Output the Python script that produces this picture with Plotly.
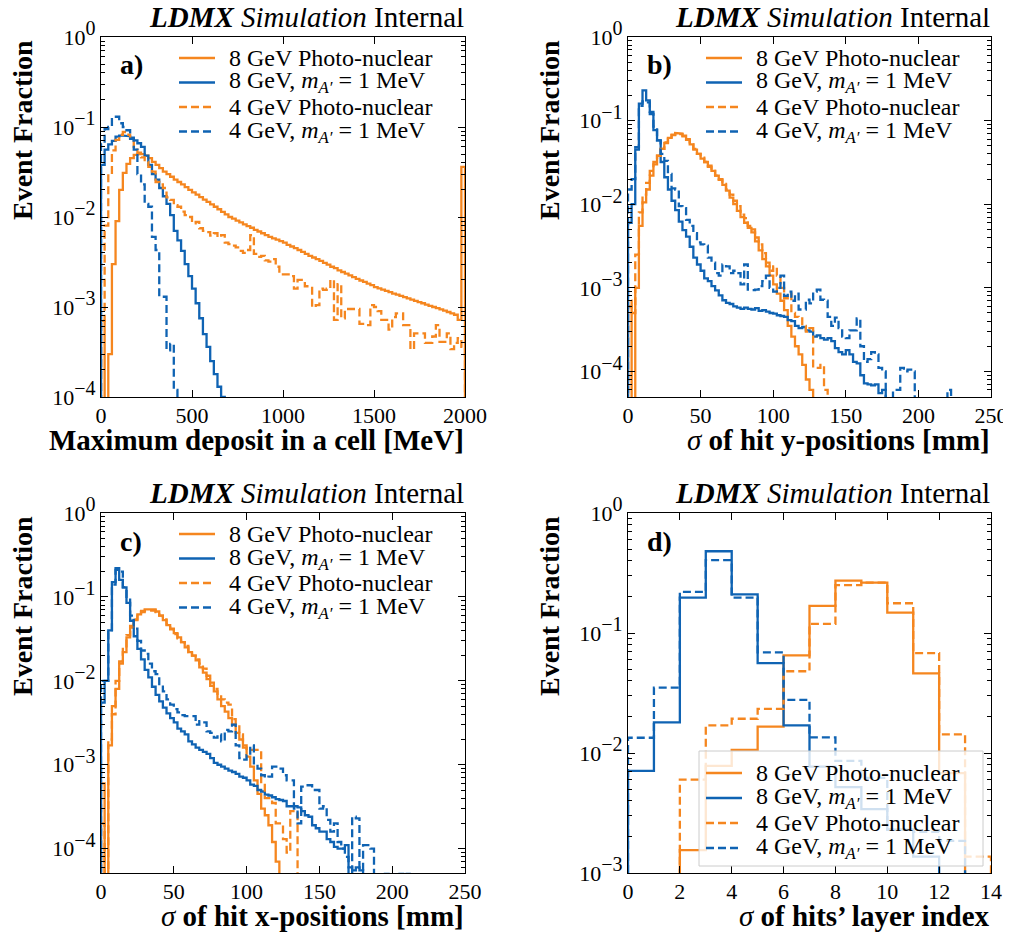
import plotly.graph_objects as go

# ---------------- data (event fractions per bin, bins start at 0) ----------------
SERIES_NAMES = ["8 GeV Photo-nuclear",
                "8 GeV, <i>m</i><sub><i>A′</i></sub> = 1 MeV",
                "4 GeV Photo-nuclear",
                "4 GeV, <i>m</i><sub><i>A′</i></sub> = 1 MeV"]

# a) Maximum deposit in a cell [MeV], 20 MeV bins
A_BIN = 20
A_PN8 = [7e-4, 0, 3e-4, 3e-3, 9e-3, 2.0e-2, 3.1e-2, 3.9e-2, 4.5e-2, 4.9e-2,
         5.0e-2, 5.0e-2, 4.8e-2, 4.5e-2, 4.1e-2, 3.8e-2, 3.5e-2, 3.2e-2, 3.0e-2, 2.8e-2,
         2.6e-2, 2.45e-2, 2.3e-2, 2.15e-2, 2.0e-2, 1.88e-2, 1.77e-2, 1.66e-2, 1.56e-2, 1.47e-2,
         1.38e-2, 1.3e-2, 1.22e-2, 1.14e-2, 1.07e-2, 1.0e-2, 9.6e-3, 9.1e-3, 8.7e-3, 8.3e-3,
         7.9e-3, 7.6e-3, 7.2e-3, 6.9e-3, 6.6e-3, 6.3e-3, 6.0e-3, 5.8e-3, 5.6e-3, 5.4e-3,
         5.2e-3, 4.9e-3, 4.7e-3, 4.5e-3, 4.3e-3, 4.1e-3, 3.9e-3, 3.7e-3, 3.55e-3, 3.4e-3,
         3.25e-3, 3.1e-3, 2.95e-3, 2.8e-3, 2.7e-3, 2.55e-3, 2.45e-3, 2.35e-3, 2.25e-3, 2.15e-3,
         2.05e-3, 1.97e-3, 1.9e-3, 1.82e-3, 1.75e-3, 1.66e-3, 1.61e-3, 1.56e-3, 1.51e-3, 1.46e-3,
         1.41e-3, 1.37e-3, 1.33e-3, 1.29e-3, 1.25e-3, 1.21e-3, 1.17e-3, 1.13e-3, 1.10e-3, 1.06e-3,
         1.03e-3, 1.0e-3, 9.7e-4, 9.4e-4, 9.1e-4, 8.8e-4, 8.5e-4, 8.2e-4, 7.2e-4, 3.6e-2]
A_AP8 = [3.8e-2, 5.6e-2, 6.4e-2, 7.0e-2, 7.8e-2, 8.0e-2, 8.0e-2, 7.9e-2, 7.6e-2, 7.1e-2,
         6.6e-2, 6.0e-2, 4.8e-2, 3.8e-2, 3.0e-2, 2.6e-2, 2.1e-2, 1.7e-2, 1.4e-2, 1.05e-2,
         7.0e-3, 5.5e-3, 4.2e-3, 3.0e-3, 2.2e-3, 1.6e-3, 1.1e-3, 7.5e-4, 5.0e-4, 3.6e-4,
         2.5e-4, 1.8e-4, 1.3e-4, 1.0e-4, 6e-5]
A_PN4 = [7e-4, 8e-3, 3.0e-2, 5.5e-2, 7.2e-2, 8.2e-2, 8.8e-2, 8.2e-2, 7.0e-2, 6.0e-2,
         5.2e-2, 4.6e-2, 4.1e-2, 3.6e-2, 3.2e-2, 2.45e-2, 2.3e-2, 2.1e-2, 1.65e-2, 1.55e-2,
         1.35e-2, 1.3e-2, 1.15e-2, 1.05e-2, 1.0e-2, 8.5e-3, 8.8e-3, 7.5e-3, 7.0e-3, 6.8e-3,
         6.2e-3, 6.6e-3, 6.0e-3, 6.3e-3, 5.2e-3, 5.0e-3, 4.8e-3, 4.6e-3, 4.2e-3, 4.0e-3,
         4.3e-3, 6.3e-3, 3.9e-3, 3.6e-3, 3.7e-3, 3.3e-3, 3.2e-3, 3.4e-3, 2.8e-3, 2.3e-3,
         2.3e-3, 2.3e-3, 2.2e-3, 1.6e-3, 2.0e-3, 2.0e-3, 1.7e-3, 1.7e-3, 1.0e-3, 1.05e-3,
         1.6e-3, 1.55e-3, 1.6e-3, 2.0e-3, 7.2e-4, 1.8e-3, 7.5e-4, 9.5e-4, 9.5e-4, 9.5e-4,
         9.5e-4, 6.5e-4, 6.3e-4, 6.3e-4, 1.05e-3, 1.0e-3, 9.0e-4, 7.2e-4, 7.2e-4, 5.6e-4,
         7.7e-4, 8.5e-4, 8.5e-4, 6.3e-4, 6.3e-4, 3.4e-4, 5.1e-4, 5.1e-4, 5.1e-4, 4.0e-4,
         4.0e-4, 4.7e-4, 6.3e-4, 4.1e-4, 4.1e-4, 5.1e-4, 3.4e-4, 4.0e-4, 4.5e-4, 3.6e-4]
A_AP4 = [6.5e-2, 9.5e-2, 1.0e-1, 1.3e-1, 1.3e-1, 1.1e-1, 1.0e-1, 9.2e-2, 7.4e-2, 5.6e-2,
         3.0e-2, 2.3e-2, 1.4e-2, 1.3e-2, 6.0e-3, 4.3e-3, 1.3e-3, 1.3e-3, 3.3e-4, 3.9e-4,
         1.2e-4]

# b) sigma of hit y-positions [mm], 2.5 mm bins
B_BIN = 2.5
B_PN8 = [6e-4, 0, 1.0e-3, 5.5e-3, 1.05e-2, 1.5e-2, 2.2e-2, 3.0e-2, 3.8e-2, 4.6e-2,
         5.4e-2, 6.2e-2, 6.8e-2, 7.1e-2, 7.0e-2, 6.6e-2, 5.9e-2, 5.2e-2, 4.5e-2, 4.0e-2,
         3.5e-2, 3.2e-2, 2.8e-2, 2.5e-2, 2.2e-2, 1.95e-2, 1.7e-2, 1.45e-2, 1.2e-2, 1.0e-2,
         8.3e-3, 7.0e-3, 6.0e-3, 5.2e-3, 4.6e-3, 3.6e-3, 2.8e-3, 2.2e-3, 1.8e-3, 1.4e-3,
         1.1e-3, 8.5e-4, 7.0e-4, 5.4e-4, 3.5e-4, 2.6e-4, 2.0e-4, 1.6e-4, 1.2e-4, 8e-5,
         6e-5]
B_AP8 = [6.0e-3, 1.0e-2, 4.5e-2, 1.6e-1, 2.3e-1, 1.75e-1, 1.27e-1, 7.7e-2, 5.8e-2, 3.2e-2,
         2.1e-2, 1.5e-2, 1.1e-2, 8.5e-3, 6.2e-3, 4.9e-3, 4.1e-3, 3.1e-3, 2.3e-3, 1.9e-3,
         1.6e-3, 1.3e-3, 1.2e-3, 1.05e-3, 9.3e-4, 8.1e-4, 7.1e-4, 6.6e-4, 6.4e-4, 6.0e-4,
         5.8e-4, 5.6e-4, 5.8e-4, 5.6e-4, 5.5e-4, 5.7e-4, 5.3e-4, 5.4e-4, 5.2e-4, 5.0e-4,
         4.9e-4, 4.7e-4, 4.6e-4, 4.5e-4, 4.1e-4, 4.0e-4, 3.5e-4, 3.3e-4, 3.4e-4, 3.1e-4,
         3.0e-4, 2.6e-4, 2.7e-4, 2.5e-4, 2.4e-4, 2.5e-4, 2.3e-4, 1.9e-4, 1.7e-4, 1.6e-4,
         1.8e-4, 1.6e-4, 1.3e-4, 1.25e-4, 9e-5, 7.2e-5, 7.0e-5, 6.8e-5, 7.0e-5, 5.5e-5,
         6.0e-5]
B_PN4 = [7e-4, 5e-4, 2.5e-3, 8e-3, 1.3e-2, 1.8e-2, 2.5e-2, 3.2e-2, 3.8e-2, 4.6e-2,
         5.5e-2, 6.3e-2, 6.7e-2, 7.0e-2, 6.9e-2, 6.5e-2, 6.0e-2, 5.2e-2, 4.6e-2, 4.0e-2,
         3.6e-2, 3.2e-2, 2.9e-2, 2.5e-2, 2.2e-2, 2.0e-2, 1.75e-2, 1.5e-2, 1.3e-2, 1.1e-2,
         9.5e-3, 7.5e-3, 6.8e-3, 5.5e-3, 5.0e-3, 4.0e-3, 3.3e-3, 2.6e-3, 2.0e-3, 1.6e-3,
         1.8e-3, 1.4e-3, 1.0e-3, 7.5e-4, 8.5e-4, 5.0e-4, 4.5e-4, 4.3e-4, 3.5e-4, 3.0e-4,
         3.3e-4, 1.1e-4, 1.1e-4, 1.2e-4, 6e-5]
B_AP4 = [1.5e-2, 2.0e-2, 4.8e-2, 1.5e-1, 1.7e-1, 1.65e-1, 1.2e-1, 8.5e-2, 5.8e-2, 4.0e-2,
         3.3e-2, 2.3e-2, 1.55e-2, 1.5e-2, 9.5e-3, 9.0e-3, 6.5e-3, 5.5e-3, 4.5e-3, 3.5e-3,
         3.3e-3, 3.2e-3, 2.3e-3, 2.0e-3, 1.5e-3, 1.4e-3, 1.9e-3, 1.8e-3, 1.5e-3, 1.6e-3,
         1.5e-3, 1.1e-3, 1.9e-3, 9.5e-4, 9.4e-4, 9.5e-4, 1.05e-3, 1.2e-3, 1.4e-3, 1.0e-3,
         9.0e-4, 1.0e-3, 1.4e-3, 8.0e-4, 9.0e-4, 7.0e-4, 8.5e-4, 5.5e-4, 5.5e-4, 7.2e-4,
         6.5e-4, 9.0e-4, 9.5e-4, 7.2e-4, 7.0e-4, 4.5e-4, 3.5e-4, 4.4e-4, 3.3e-4, 2.6e-4,
         2.5e-4, 3.1e-4, 3.1e-4, 4.3e-4, 2.0e-4, 1.3e-4, 1.4e-4, 1.7e-4, 1.6e-4, 1.1e-4,
         1.0e-4, 0, 0, 6e-5, 6e-5, 1.1e-4, 1.0e-4, 1.05e-4, 1.0e-4, 0,
         0, 0, 0, 0, 0, 0, 0, 0, 6e-5]

# c) sigma of hit x-positions [mm], 2.5 mm bins
C_BIN = 2.5
C_PN8 = [6e-4, 0, 1.7e-3, 5e-3, 8e-3, 1.6e-2, 2.2e-2, 3.3e-2, 4.3e-2, 5.3e-2,
         6.2e-2, 6.8e-2, 7.1e-2, 7.2e-2, 7.1e-2, 6.7e-2, 6.0e-2, 5.3e-2, 4.6e-2, 4.2e-2,
         3.7e-2, 3.3e-2, 2.9e-2, 2.5e-2, 2.2e-2, 2.0e-2, 1.75e-2, 1.45e-2, 1.25e-2, 1.05e-2,
         8.7e-3, 7.5e-3, 6.0e-3, 5.0e-3, 4.3e-3, 3.6e-3, 3.0e-3, 2.4e-3, 2.0e-3, 1.6e-3,
         1.25e-3, 9.5e-4, 6.5e-4, 4.5e-4, 3.0e-4, 2.5e-4, 1.9e-4, 1.2e-4, 7e-5]
C_AP8 = [5.5e-3, 1.0e-2, 4.0e-2, 1.5e-1, 2.2e-1, 1.6e-1, 1.3e-1, 8.5e-2, 5.2e-2, 3.4e-2,
         2.4e-2, 1.8e-2, 1.35e-2, 1.1e-2, 8.5e-3, 6.8e-3, 5.7e-3, 4.8e-3, 4.1e-3, 3.6e-3,
         3.2e-3, 2.7e-3, 2.5e-3, 2.3e-3, 1.9e-3, 1.75e-3, 1.6e-3, 1.5e-3, 1.42e-3, 1.35e-3,
         1.2e-3, 1.05e-3, 1.0e-3, 9.5e-4, 9.0e-4, 8.5e-4, 8.2e-4, 7.8e-4, 7.2e-4, 7.0e-4,
         6.5e-4, 5.8e-4, 5.6e-4, 5.0e-4, 4.8e-4, 4.4e-4, 4.3e-4, 4.1e-4, 3.9e-4, 3.8e-4,
         3.7e-4, 3.2e-4, 3.2e-4, 3.2e-4, 3.1e-4, 2.8e-4, 2.5e-4, 2.4e-4, 1.9e-4, 1.75e-4,
         1.6e-4, 1.6e-4, 1.3e-4, 1.2e-4, 1.05e-4, 1.0e-4, 1.0e-4, 1.1e-4, 6e-5, 5.5e-5,
         6e-5, 5.5e-5]
C_PN4 = [2e-4, 0, 2e-3, 4e-3, 1.0e-2, 1.7e-2, 2.5e-2, 3.5e-2, 4.5e-2, 5.4e-2,
         6.0e-2, 6.6e-2, 6.8e-2, 6.9e-2, 6.9e-2, 6.6e-2, 6.0e-2, 5.4e-2, 4.7e-2, 4.1e-2,
         3.6e-2, 3.2e-2, 2.9e-2, 2.6e-2, 2.2e-2, 2.0e-2, 1.8e-2, 1.6e-2, 1.4e-2, 1.15e-2,
         9.5e-3, 8.0e-3, 7.0e-3, 6.0e-3, 5.5e-3, 5.2e-3, 3.5e-3, 3.0e-3, 2.3e-3, 1.7e-3,
         1.5e-3, 1.5e-3, 1.5e-3, 1.4e-3, 6.0e-4, 4.0e-4, 4.0e-4, 3.5e-4, 2.0e-4, 2.0e-4,
         1.3e-4, 9e-5, 2.8e-4, 2.8e-4]
C_AP4 = [1.0e-2, 1.0e-2, 3.8e-2, 1.4e-1, 2.1e-1, 2.0e-1, 1.3e-1, 1.0e-1, 6.0e-2, 4.2e-2,
         3.0e-2, 2.3e-2, 2.1e-2, 1.6e-2, 1.3e-2, 1.2e-2, 8.5e-3, 7.5e-3, 6.0e-3, 5.2e-3,
         4.6e-3, 4.2e-3, 3.9e-3, 3.8e-3, 3.8e-3, 3.8e-3, 3.0e-3, 3.3e-3, 3.2e-3, 2.5e-3,
         2.4e-3, 2.1e-3, 2.3e-3, 1.9e-3, 2.6e-3, 2.5e-3, 3.0e-3, 1.7e-3, 1.2e-3, 1.15e-3,
         1.3e-3, 1.7e-3, 1.0e-3, 9.0e-4, 7.5e-4, 7.0e-4, 7.2e-4, 9.5e-4, 9.5e-4, 9.0e-4,
         7.5e-4, 6.5e-4, 6.5e-4, 3.0e-4, 2.0e-4, 5.5e-4, 5.7e-4, 5.7e-4, 5.0e-4, 5.0e-4,
         3.0e-4, 3.2e-4, 2.2e-4, 1.6e-4, 2.0e-4, 1.2e-4, 1.0e-4, 8.0e-5, 5e-5, 2.4e-4,
         2.3e-4, 4e-5, 1.1e-4, 1.1e-4, 1.0e-4, 0, 0, 0, 5e-5, 0,
         0, 0, 5e-5, 0, 5e-5, 5e-5]

# d) sigma of hits' layer index, unit bins
D_BIN = 1
D_PN8 = [0, 0, 1.55e-3, 7.8e-3, 1.06e-2, 1.66e-2, 6.5e-2, 1.68e-1, 2.73e-1, 2.63e-1, 1.48e-1, 4.6e-2, 6.8e-3]
D_AP8 = [7.1e-3, 1.8e-2, 1.97e-1, 4.8e-1, 2.1e-1, 5.6e-2, 1.7e-2, 7.7e-3, 5.2e-3, 3.4e-3, 2.3e-3, 1.37e-3]
D_PN4 = [0, 0, 6.0e-3, 1.7e-2, 1.93e-2, 2.33e-2, 4.8e-2, 1.19e-1, 2.51e-1, 2.63e-1, 1.77e-1, 6.8e-2, 1.43e-2, 1.37e-3]
D_AP4 = [1.34e-2, 3.5e-2, 2.2e-1, 4.05e-1, 1.97e-1, 6.9e-2, 2.77e-2, 1.35e-2, 8.6e-3, 6.2e-3, 2.3e-3, 2.2e-3, 1.85e-3]

A_XTICKS = [0, 500, 1000, 1500, 2000]
BC_XTICKS = [0, 50, 100, 150, 200, 250]
D_XTICKS = [0, 2, 4, 6, 8, 10, 12, 14]

# ---------------- styling ----------------
PAGE_W, PAGE_H = 1011, 938
OFF = 8                      # page body margin in which the figure sits
W, H = PAGE_W - OFF, PAGE_H - OFF
FONT = "Liberation Serif, Times New Roman, serif"
ORANGE = "#F5861F"
BLUE = "#0F63B3"
COLORS = [ORANGE, BLUE, ORANGE, BLUE]
DASHES = ["solid", "solid", "8px,4px", "8px,4px"]
FLOOR = 1e-9


def steps(width, vals):
    xs, ys = [0.0], [FLOOR]
    for i, v in enumerate(vals):
        h = v if v > 0 else FLOOR
        xs += [i * width, (i + 1) * width]
        ys += [h, h]
    xs.append(len(vals) * width)
    ys.append(FLOOR)
    return xs, ys


def sup(e):
    return "10<sup><span style='font-size:20px'>%s</span></sup>" % (str(e).replace("-", "−"))


def px(x):          # page pixel -> paper fraction
    return (x - OFF) / W


def py(y):
    return 1 - (y - OFF) / H


panels = [
    dict(label="a)", xdom=(101, 465), ydom=(37, 397), xr=[0, 2000], yr=[-4, 0],
         width=A_BIN, data=[A_PN8, A_AP8, A_PN4, A_AP4], xt=A_XTICKS,
         xlabel="<b>Maximum deposit in a cell [MeV]</b>", legbox=False),
    dict(label="b)", xdom=(628, 991), ydom=(37, 397), xr=[0, 250], yr=[-4.306, 0],
         width=B_BIN, data=[B_PN8, B_AP8, B_PN4, B_AP4], xt=BC_XTICKS,
         xlabel="<i>σ</i><b> of hit y-positions [mm]</b>", legbox=False),
    dict(label="c)", xdom=(101, 465), ydom=(513, 873), xr=[0, 250], yr=[-4.29, 0],
         width=C_BIN, data=[C_PN8, C_AP8, C_PN4, C_AP4], xt=BC_XTICKS,
         xlabel="<i>σ</i><b> of hit x-positions [mm]</b>", legbox=False),
    dict(label="d)", xdom=(628, 991), ydom=(513, 873), xr=[0, 14], yr=[-3, 0],
         width=D_BIN, data=[D_PN8, D_AP8, D_PN4, D_AP4], xt=D_XTICKS,
         xlabel="<i>σ</i><b> of hits’ layer index</b>", legbox=True),
]

fig = go.Figure()
annotations = []
shapes = []
layout = dict(
    width=W, height=H, template="none", showlegend=False,
    margin=dict(l=0, r=0, t=0, b=0, autoexpand=False),
    paper_bgcolor="white", plot_bgcolor="white",
    font=dict(family=FONT, size=22, color="black"),
)

for k, p in enumerate(panels):
    n = "" if k == 0 else str(k + 1)
    for s, vals in enumerate(p["data"]):
        xs, ys = steps(p["width"], vals)
        fig.add_trace(go.Scatter(
            x=xs, y=ys, mode="lines", name=SERIES_NAMES[s], showlegend=False,
            line=dict(color=COLORS[s], width=2.3, dash=DASHES[s]),
            xaxis="x" + n, yaxis="y" + n, hoverinfo="skip"))
    emin = -4 if p["yr"][0] < -3.5 else -3
    ytv = [10.0 ** e for e in range(emin, 1)]
    ytt = [sup(e) for e in range(emin, 1)]
    minor = [m * 10.0 ** e for e in range(-5, 0) for m in range(2, 10)]
    axis_common = dict(showline=True, linecolor="black", linewidth=1.3, mirror="allticks",
                       ticks="inside", ticklen=7, tickwidth=1.1, tickcolor="black",
                       showgrid=False, zeroline=False, automargin=False,
                       tickfont=dict(family=FONT, size=22, color="black"))
    layout["xaxis" + n] = dict(axis_common, domain=[px(p["xdom"][0]), px(p["xdom"][1])],
                               range=p["xr"], tickmode="array", tickvals=p["xt"],
                               ticktext=[str(v) for v in p["xt"]], anchor="y" + n,
                               ticklabeloverflow="allow", ticklabelstandoff=-2)
    layout["yaxis" + n] = dict(axis_common, domain=[py(p["ydom"][1]), py(p["ydom"][0])],
                               type="log", range=p["yr"], tickmode="array",
                               tickvals=ytv, ticktext=ytt, anchor="x" + n,
                               ticklabeloverflow="allow",
                               minor=dict(ticks="inside", ticklen=4, tickwidth=1,
                                          tickcolor="black", tickmode="array",
                                          tickvals=minor, showgrid=False))

    x0, x1 = p["xdom"]
    y0, y1 = p["ydom"]
    # header
    annotations.append(dict(x=px(x1 + 1), y=py(y0 - 20), xref="paper", yref="paper",
                            xanchor="right", yanchor="middle", showarrow=False,
                            text="<b><i>LDMX</i></b><i> Simulation</i> Internal",
                            font=dict(family=FONT, size=29, color="black")))
    # panel label
    annotations.append(dict(x=px(x0 + 17), y=py(y0 + 28), xref="paper", yref="paper",
                            xanchor="left", yanchor="middle", showarrow=False,
                            text="<b>%s</b>" % p["label"],
                            font=dict(family=FONT, size=28, color="black")))
    # x label (right aligned)
    annotations.append(dict(x=px(x1 + 1), y=py(y1 + 43), xref="paper", yref="paper",
                            xanchor="right", yanchor="middle", showarrow=False,
                            text=p["xlabel"], font=dict(family=FONT, size=29, color="black")))
    # y label (top aligned)
    annotations.append(dict(x=px(x0 - 79), y=py(y0 + 93), xref="paper", yref="paper",
                            xanchor="center", yanchor="middle", showarrow=False,
                            textangle=-90, text="<b>Event Fraction</b>",
                            font=dict(family=FONT, size=28, color="black")))

    # legend
    if p["legbox"]:
        ly = [y0 + 260, y0 + 285, y0 + 310, y0 + 335]
        shapes.append(dict(type="rect", xref="paper", yref="paper", layer="above",
                           x0=px(699), x1=px(983), y0=py(751), y1=py(866),
                           fillcolor="rgba(255,255,255,0.8)",
                           line=dict(color="#cccccc", width=1)))
    else:
        ly = [y0 + 21, y0 + 45.5, y0 + 70, y0 + 94.5]
    for s in range(4):
        shapes.append(dict(type="line", xref="paper", yref="paper", layer="above",
                           x0=px(x0 + 78), x1=px(x0 + 114), y0=py(ly[s]), y1=py(ly[s]),
                           line=dict(color=COLORS[s], width=2.6, dash=DASHES[s])))
        annotations.append(dict(x=px(x0 + 126), y=py(ly[s]), xref="paper", yref="paper",
                                xanchor="left", yanchor="middle", showarrow=False,
                                text=SERIES_NAMES[s],
                                font=dict(family=FONT, size=24, color="black")))

layout["annotations"] = annotations
layout["shapes"] = shapes
fig.update_layout(**layout)
fig.write_html("out.html")
